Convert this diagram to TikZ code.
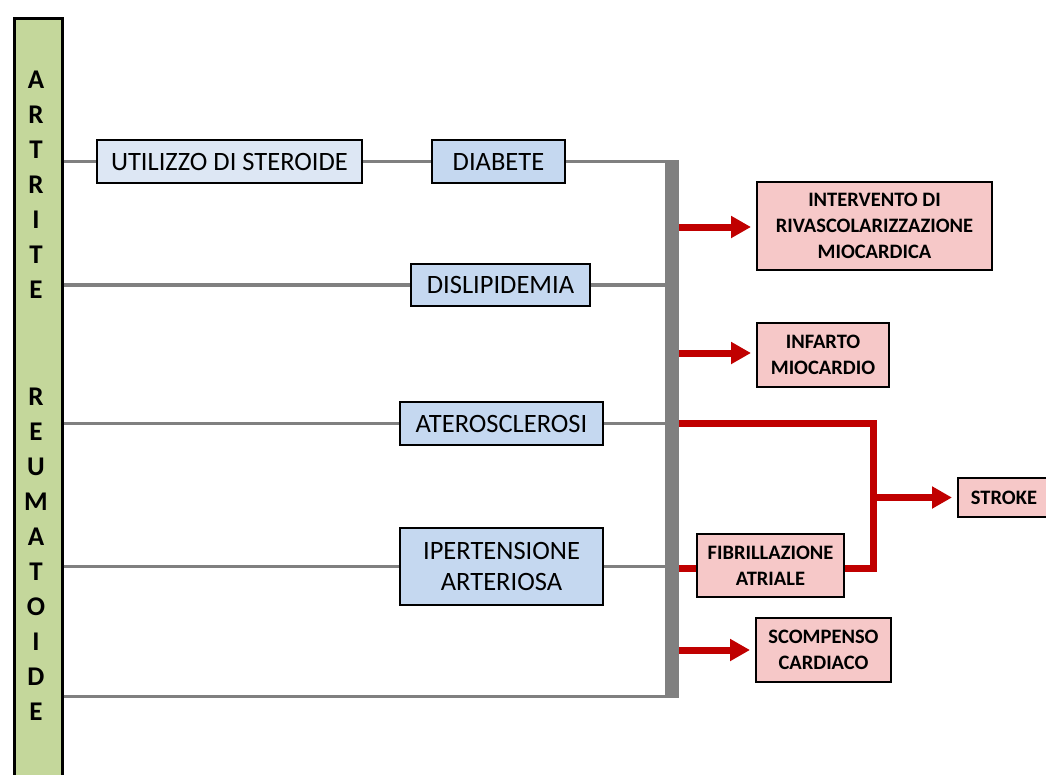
\documentclass[tikz,border=0pt]{standalone}
\usepackage{fontspec}
\setmainfont{Carlito}
\usetikzlibrary{arrows.meta}
\definecolor{barg}{HTML}{C4D79B}
\definecolor{lblue}{HTML}{DDE7F4}
\definecolor{mblue}{HTML}{C5D8F0}
\definecolor{pinkb}{HTML}{F6C8C8}
\definecolor{redd}{HTML}{C00000}
\definecolor{gline}{HTML}{808080}
\begin{document}
\begin{tikzpicture}[x=1pt,y=-1pt,
  lbox/.style={draw=black, line width=2pt, inner sep=0pt, align=center,
    font=\fontsize{26.5}{31}\selectfont, text=black},
  rbox/.style={draw=black, line width=2pt, inner sep=0pt, align=center, fill=pinkb,
    font=\bfseries\fontsize{20.5}{26}\selectfont, text=black},
  letter/.style={inner sep=0pt, font=\bfseries\fontsize{27}{30}\selectfont, text=black},
  gl/.style={draw=gline, line width=3.5pt},
  rline/.style={draw=redd, line width=7pt, line join=miter},
  rarr/.style={draw=redd, line width=7pt, -{Triangle[width=21pt,length=20pt]}, shorten >=5pt}]
\useasboundingbox (0,0) rectangle (1046,774);
\fill[white] (0,0) rectangle (1046,774);
% left bar
\node[draw=black, line width=3pt, fill=barg, minimum width=48pt, minimum height=790pt,
  anchor=north west, inner sep=0pt] (bar) at (12.5,16.5) {};
\foreach \ch/\yy [count=\i] in {A/80,R/115,T/150,R/185,I/220,T/255,E/290,
  R/397,E/432,U/467,M/502,A/537,T/572,O/607,I/642,D/677,E/712}
  \node[letter] (l\i) at (36,\yy) {\ch};
% bus
\node[fill=gline, minimum width=14pt, minimum height=538pt, inner sep=0pt, anchor=north] (bus) at (672,159.5) {};
% left boxes
\node[lbox, fill=lblue, minimum width=265pt, minimum height=43pt] (ster) at (229.5,161.5) {UTILIZZO DI STEROIDE};
\node[lbox, fill=mblue, minimum width=133pt, minimum height=43pt] (diab) at (498.5,161.5) {DIABETE};
\node[lbox, fill=mblue, minimum width=179pt, minimum height=42pt] (disl) at (500.5,285) {DISLIPIDEMIA};
\node[lbox, fill=mblue, minimum width=203pt, minimum height=43pt] (ater) at (501.5,423.5) {ATEROSCLEROSI};
\node[lbox, fill=mblue, minimum width=203pt, minimum height=77pt] (iper) at (501.5,566.5) {IPERTENSIONE\\ARTERIOSA};
% right boxes
\node[rbox, minimum width=235pt, minimum height=88pt] (interv) at (874.5,226) {INTERVENTO DI\\RIVASCOLARIZZAZIONE\\MIOCARDICA};
\node[rbox, minimum width=132pt, minimum height=64pt] (infarto) at (823,355) {INFARTO\\MIOCARDIO};
\node[rbox, minimum width=147pt, minimum height=63pt] (fibr) at (770.5,565.5) {FIBRILLAZIONE\\ATRIALE};
\node[rbox, minimum width=92pt, minimum height=39pt] (stroke) at (1004,497.5) {STROKE};
\node[rbox, minimum width=135pt, minimum height=64pt] (scomp) at (823.5,650) {SCOMPENSO\\CARDIACO};
% gray connectors
\draw[gl] (bar.east |- ster.west) -- (ster.west);
\draw[gl] (ster.east) -- (diab.west);
\draw[gl] (diab.east) -- (diab.east -| bus.west);
\draw[gl] (bar.east |- disl.west) -- (disl.west);
\draw[gl] (disl.east) -- (disl.east -| bus.west);
\draw[gl] (bar.east |- ater.west) -- (ater.west);
\draw[gl] (ater.east) -- (ater.east -| bus.west);
\draw[gl] (bar.east |- iper.west) -- (iper.west);
\draw[gl] (iper.east) -- (iper.east -| bus.west);
\coordinate (bot) at (672,696.5);
\draw[gl] (bar.east |- bot) -- (bot -| bus.east);
% red connectors
\coordinate (jx) at (873,497.5);
\draw[rarr] (bus.east |- 0,227) -- (interv.west |- 0,227);
\draw[rarr] (bus.east |- 0,353) -- (infarto.west |- 0,353);
\draw[rarr] (bus.east |- scomp.west) -- (scomp.west);
\draw[rline] (bus.east |- ater.east) -- (jx |- ater.east) -- (jx |- 0,568) -- (fibr.east |- 0,568);
\draw[rline] (bus.east |- 0,568) -- (fibr.west |- 0,568);
\draw[rarr] (jx) -- (stroke.west);
\end{tikzpicture}
\end{document}
